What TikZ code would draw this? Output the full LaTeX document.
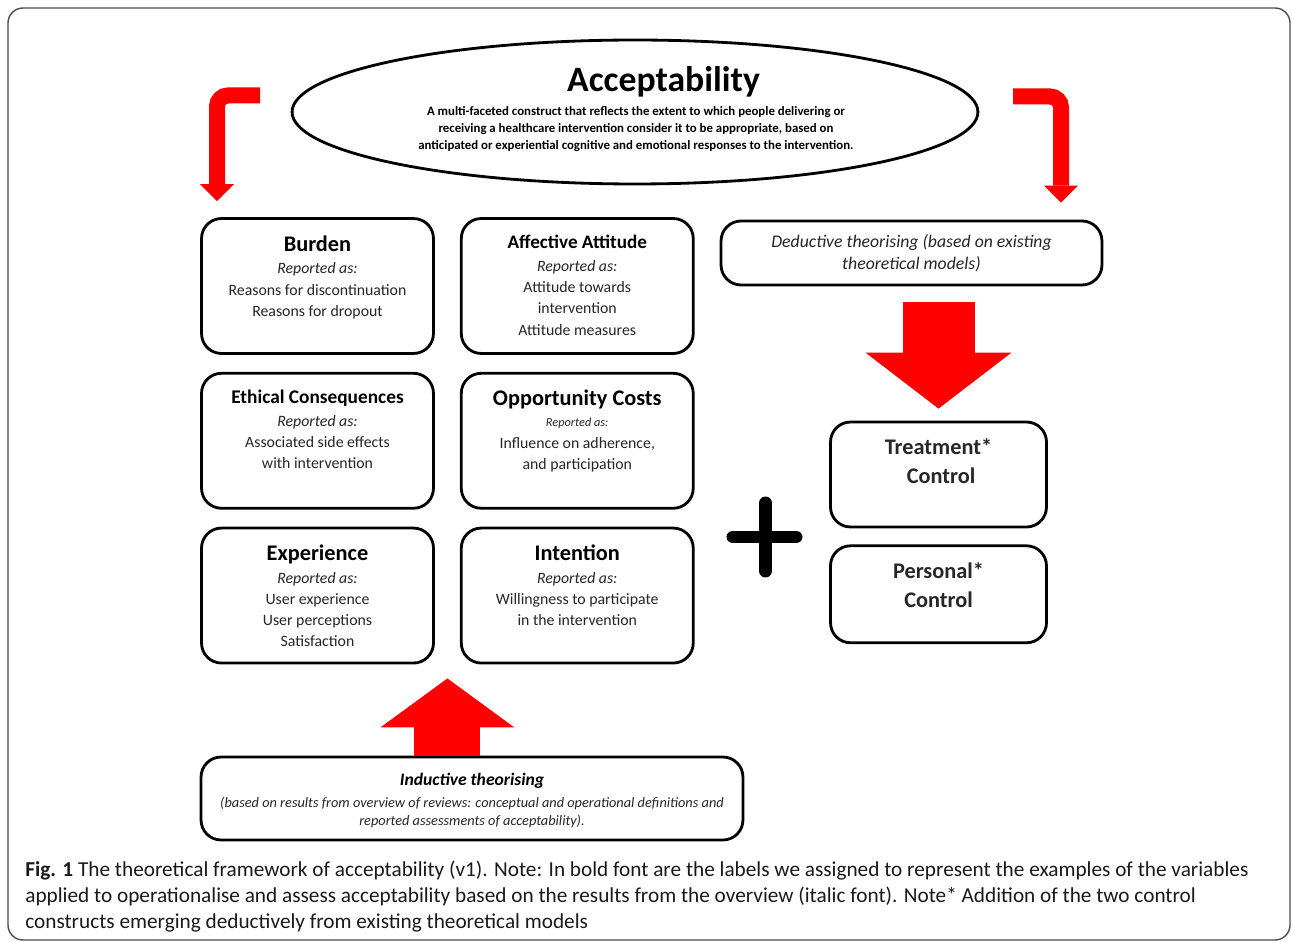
\documentclass[tikz,border=0pt]{standalone}
\usepackage{fontspec}
\setmainfont{Carlito}
\usetikzlibrary{arrows.meta, positioning, shapes.geometric, calc}
\tikzset{
  card/.style={rectangle, rounded corners=0.4cm, draw=black, line width=1.6pt,
    fill=white, minimum width=4.64cm, minimum height=2.7cm, inner sep=0pt},
  cardtext/.style={align=center, inner sep=0pt, anchor=north, text=black!85,
    font=\fontsize{9}{12}\selectfont},
  ctrl/.style={card, minimum width=4.32cm},
  frame/.style={draw=black!70, line width=0.8pt, rounded corners=0.3cm},
  bendarrow/.style={draw=red, line width=0.32cm, rounded corners=0.22cm,
    -{Triangle[width=0.68cm, length=0.34cm, line width=0pt]}},
  plusbar/.style={draw=black, line width=0.26cm, line cap=round},
}

\begin{document}
\begin{tikzpicture}[x=0.02cm, y=-0.02cm]
\useasboundingbox (0,0) rectangle (1292,942);
\draw[frame] (8,8) rectangle (1290,940);

% ---- construct ----
\node[ellipse, draw=black, line width=1.6pt, minimum width=13.72cm,
  minimum height=2.88cm, inner sep=0pt] (accept) at (635,112) {};
\node[anchor=base, inner sep=0pt, font=\fontsize{20.3}{24}\selectfont\bfseries]
  (accepttitle) at (663.5,92) {Acceptability};
\node[align=center, inner sep=0pt, font=\fontsize{7.3}{9.6}\selectfont\bfseries]
  (acceptdef) at (636,129) {A multi-faceted construct that reflects the extent to which people delivering or\\
  receiving a healthcare intervention consider it to be appropriate, based on\\
  anticipated or experiential cognitive and emotional responses to the intervention.};

% ---- inductive constructs ----
\node[card] (burden) at (317.5,286) {};
\node[card, right=0.5cm of burden] (affect) {};
\node[card, below=0.34cm of burden] (ethical) {};
\node[card, right=0.5cm of ethical] (opport) {};
\node[card, below=0.34cm of ethical] (exper) {};
\node[card, right=0.5cm of exper] (intent) {};

\node[cardtext] (burdentxt) at ([yshift=-0.36cm]burden.north) {%
  {\fontsize{12.7}{15}\selectfont\bfseries\color{black} Burden}\\[1pt]
  \textit{Reported as:}\\ Reasons for discontinuation\\ Reasons for dropout};
\node[cardtext] (affecttxt) at ([yshift=-0.36cm]affect.north) {%
  {\fontsize{10.9}{13}\selectfont\bfseries\color{black} Affective Attitude}\\[1pt]
  \textit{Reported as:}\\ Attitude towards\\ intervention\\ Attitude measures};
\node[cardtext] (ethicaltxt) at ([yshift=-0.36cm]ethical.north) {%
  {\fontsize{11}{13}\selectfont\bfseries\color{black} Ethical Consequences}\\[1pt]
  \textit{Reported as:}\\ Associated side effects\\ with intervention};
\node[cardtext] (opporttxt) at ([yshift=-0.36cm]opport.north) {%
  {\fontsize{12.7}{15}\selectfont\bfseries\color{black} Opportunity Costs}\\
  {\fontsize{7}{9}\selectfont\itshape Reported as:}\\ Influence on adherence,\\ and participation};
\node[cardtext] (expertxt) at ([yshift=-0.36cm]exper.north) {%
  {\fontsize{12.7}{15}\selectfont\bfseries\color{black} Experience}\\[1pt]
  \textit{Reported as:}\\ User experience\\ User perceptions\\ Satisfaction};
\node[cardtext] (intenttxt) at ([yshift=-0.36cm]intent.north) {%
  {\fontsize{12.7}{15}\selectfont\bfseries\color{black} Intention}\\[1pt]
  \textit{Reported as:}\\ Willingness to participate\\ in the intervention};

\node[card, minimum width=10.84cm, minimum height=1.66cm] (induct) at (472,798.5) {};
\node[cardtext, anchor=center, font=\fontsize{8.15}{10.2}\selectfont\itshape]
  (inducttxt) at ([yshift=-0.04cm]induct.center) {%
  {\fontsize{10}{12}\selectfont\bfseries\itshape\color{black} Inductive theorising}\\[2pt]
  (based on results from overview of reviews: conceptual and operational definitions and\\
  reported assessments of acceptability).};

% ---- deductive constructs ----
\node[card, minimum width=7.62cm, minimum height=1.28cm] (deduct) at (911.5,253) {};
\node[cardtext, anchor=center, font=\fontsize{10.1}{12.5}\selectfont\itshape]
  (deducttxt) at (deduct.center) {Deductive theorising (based on existing\\ theoretical models)};

\node[ctrl, minimum height=2.1cm] (treat) at (938.5,474.5) {};
\node[ctrl, minimum height=1.94cm, below=0.32cm of treat] (personal) {};
\node[cardtext, font=\fontsize{12.7}{16.4}\selectfont\bfseries]
  (treattxt) at ([yshift=-0.36cm]treat.north) {Treatment*\\ \ Control};
\node[cardtext, font=\fontsize{12.7}{16.4}\selectfont\bfseries]
  (personaltxt) at ([yshift=-0.36cm]personal.north) {Personal*\\ Control};

% ---- arrows ----
\coordinate (lstart) at (260,95.5);
\coordinate (rstart) at (1013,96.5);
\draw[bendarrow] (lstart) -- (217,95.5) -- ([yshift=0.32cm]burden.north -| 217,0);
\draw[bendarrow] (rstart) -- (1061,96.5) -- ([yshift=0.34cm]deduct.north -| 1061,0);

\coordinate (gap) at ($(exper.south east)!0.5!(intent.south west)$);
\draw[draw=red, line width=1.32cm, -{Triangle[width=2.68cm, length=0.98cm, line width=0pt]}]
  (gap |- induct.north) -- ([yshift=-0.28cm]gap);
\draw[draw=red, line width=1.44cm, -{Triangle[width=2.92cm, length=1.12cm, line width=0pt]}]
  ([yshift=-0.32cm]treat.north |- deduct.south) -- ([yshift=0.24cm]treat.north);

% ---- plus ----
\draw[plusbar] (765.5,503) -- (765.5,571);
\draw[plusbar] (733,537) -- (796,537);

% ---- caption ----
\node[anchor=north west, align=left, inner sep=0pt, text=black!90,
  font=\fontsize{12.1}{14.7}\selectfont] (caption) at (25,861) {%
  \textbf{Fig. 1} The theoretical framework of acceptability (v1). Note: In bold font are the labels we assigned to represent the examples of the variables\\
  applied to operationalise and assess acceptability based on the results from the overview (italic font). Note* Addition of the two control\\
  constructs emerging deductively from existing theoretical models};
\end{tikzpicture}
\end{document}
